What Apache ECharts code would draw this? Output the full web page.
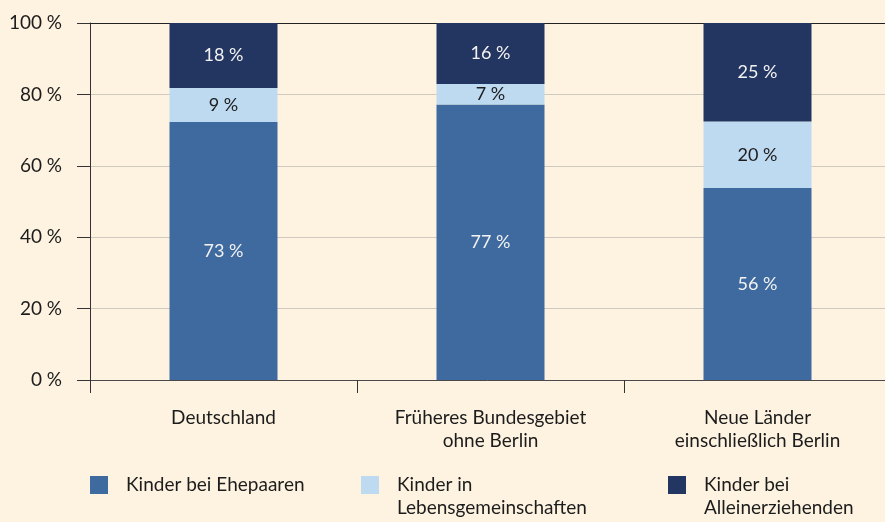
<!DOCTYPE html>
<html>
<head>
<meta charset="utf-8">
<script src="https://cdn.jsdelivr.net/npm/echarts@6/dist/echarts.min.js"></script>
<style>
  html, body { margin: 0; padding: 0; background: #fef3e1; }
  #chart { width: 885px; height: 522px; }
</style>
</head>
<body>
<div id="chart"></div>
<script>
// Kategorien (Regionen)
const regionen = ["Deutschland", "Früheres Bundesgebiet\nohne Berlin", "Neue Länder\neinschließlich Berlin"];

// Balkenhöhen (in %)
const ehepaare = [72.3, 77.2, 53.8];
const lebensgemeinschaften = [9.5, 5.7, 18.6];
const alleinerziehende = [18.2, 17.1, 27.6];

// Beschriftungen der Segmente
const labelsEhepaare = ["73", "77", "56"];
const labelsLebensgem = ["9", "7", "20"];
const labelsAllein = ["18", "16", "25"];

const yTicks = [0, 20, 40, 60, 80, 100];

const serienNamen = ["Kinder bei Ehepaaren", "Kinder in Lebensgemeinschaften", "Kinder bei Alleinerziehenden"];
// Legendentext: erste Zeile in der Legende, zweite Zeile darunter
const legendeZeile1 = ["Kinder bei Ehepaaren", "Kinder in", "Kinder bei"];
const legendeZeile2 = ["", "Lebensgemeinschaften", "Alleinerziehenden"];
const farben = ["#3e6a9f", "#bedaf1", "#233661"];

const FONT = "Lato";
const TEXT = "#1c1c1c";
const PCT = "\u202F%";
const legendeLinks = [90, 361, 668];

const myChart = echarts.init(document.getElementById("chart"));

function serie(name, data, labels, color, labelColor) {
  return {
    name: name,
    type: "bar",
    stack: "gesamt",
    barWidth: 108,
    data: data,
    itemStyle: { color: color },
    label: {
      show: true,
      position: "inside",
      color: labelColor,
      fontFamily: FONT,
      fontSize: 18,
      formatter: (p) => labels[p.dataIndex] + PCT,
    },
  };
}

function legende(i) {
  return {
    data: [serienNamen[i]],
    left: legendeLinks[i],
    top: 474,
    padding: 0,
    itemWidth: 18,
    itemHeight: 18,
    icon: "rect",
    selectedMode: false,
    formatter: () => legendeZeile1[i],
    textStyle: {
      fontFamily: FONT,
      fontSize: 19,
      color: TEXT,
      lineHeight: 22,
      padding: [0, 0, 0, 13],
    },
  };
}

// zweite Legendenzeile als Text
const zweiteZeilen = legendeZeile2
  .map((t, i) => ({ t, i }))
  .filter((d) => d.t)
  .map((d) => ({
    type: "text",
    x: legendeLinks[d.i] + 36,
    y: 508,
    style: {
      text: d.t,
      fill: TEXT,
      font: "19px " + FONT,
      verticalAlign: "middle",
    },
  }));

const option = {
  backgroundColor: "#fef3e1",
  animation: false,
  grid: { left: 90, width: 801, top: 23, bottom: 142, outerBoundsMode: "none" },
  legend: [legende(0), legende(1), legende(2)],
  graphic: zweiteZeilen,
  xAxis: [
    {
      type: "category",
      data: regionen,
      axisLine: { lineStyle: { color: "#4a4a4a", width: 1 } },
      axisTick: { show: true, length: 13, lineStyle: { color: "#333" } },
      axisLabel: {
        color: TEXT,
        fontFamily: FONT,
        fontSize: 19,
        lineHeight: 23,
        margin: 26,
        interval: 0,
      },
    },
    {
      type: "category",
      position: "top",
      data: regionen,
      axisLine: { lineStyle: { color: "#222", width: 1 } },
      axisTick: { show: false },
      axisLabel: { show: false },
    },
  ],
  yAxis: {
    type: "value",
    min: 0,
    max: 100,
    interval: 20,
    axisLine: { show: true, lineStyle: { color: "#333" } },
    axisTick: { show: true, length: 13, lineStyle: { color: "#333" } },
    splitLine: { lineStyle: { color: "#cfc9c0" } },
    axisLabel: {
      color: TEXT,
      fontFamily: FONT,
      fontSize: 19,
      margin: 28,
      formatter: (v) => (yTicks.includes(v) ? v + PCT : ""),
    },
  },
  series: [
    serie(serienNamen[0], ehepaare, labelsEhepaare, farben[0], "#f2f2f2"),
    serie(serienNamen[1], lebensgemeinschaften, labelsLebensgem, farben[1], TEXT),
    serie(serienNamen[2], alleinerziehende, labelsAllein, farben[2], "#f2f2f2"),
  ],
};

myChart.setOption(option);
</script>
</body>
</html>
